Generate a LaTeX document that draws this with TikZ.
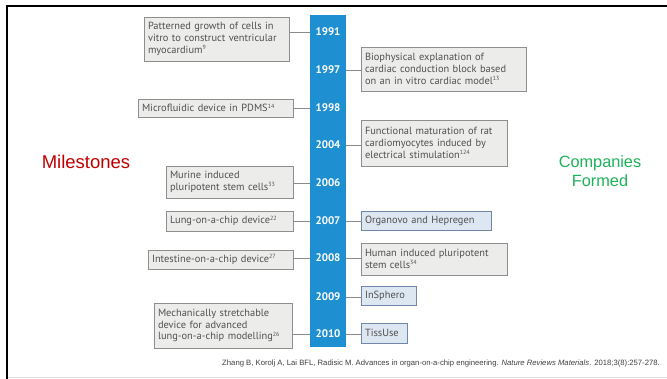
\documentclass[tikz,border=0pt]{standalone}
\usepackage{fontspec}
\setmainfont{PT Sans}
\newfontfamily\arialf{Liberation Sans}
\definecolor{barblue}{HTML}{1E8FD0}
\definecolor{boxgray}{HTML}{ECECEA}
\definecolor{boxedge}{HTML}{8E8E8E}
\definecolor{boxblue}{HTML}{DDE7F1}
\definecolor{blueedge}{HTML}{7088A6}
\definecolor{txt}{HTML}{505050}
\definecolor{msred}{HTML}{C00000}
\definecolor{cogreen}{HTML}{1DB35A}
\definecolor{linegray}{HTML}{8A8A8A}
\newcommand{\rf}[1]{\textsuperscript{\fontsize{6}{6}\selectfont #1}}
\begin{document}
\begin{tikzpicture}[x=1pt,y=-1pt,
  gbox/.style={draw=boxedge, fill=boxgray, line width=0.8pt, inner xsep=4pt, inner ysep=0pt,
    align=left, text=txt, font=\fontsize{10.4}{11.8}\selectfont, anchor=center},
  bbox/.style={gbox, draw=blueedge, fill=boxblue},
  yr/.style={text=white, font=\fontsize{11}{12}\bfseries\selectfont, anchor=center, inner sep=0pt},
  conn/.style={draw=linegray, line width=0.8pt}]
\useasboundingbox (0,0) rectangle (667,379);
\fill[white] (0,0) rectangle (667,379);
% frame
\draw[line width=2pt, black] (667,6) -- (7,6) -- (7,379);
\draw[line width=1pt, black!13] (8,378) -- (667,378);
% bar
\node[fill=barblue, inner sep=0pt, minimum width=36pt, minimum height=332pt, anchor=north west] (bar) at (310,15) {};
\node[yr] (y1991) at (328,32) {1991};
\node[yr] (y1997) at (328,70) {1997};
\node[yr] (y1998) at (328,108) {1998};
\node[yr] (y2004) at (328,145) {2004};
\node[yr] (y2006) at (328,183) {2006};
\node[yr] (y2007) at (328,221) {2007};
\node[yr] (y2008) at (328,258) {2008};
\node[yr] (y2009) at (328,297) {2009};
\node[yr] (y2010) at (328,334) {2010};
% left boxes
\node[gbox, minimum width=145pt, minimum height=44pt, text width=137pt] (l1991) at (216.5,39) {Patterned growth of cells in\\vitro to construct ventricular\\myocardium\rf{9}};
\node[gbox, minimum width=155pt, minimum height=18pt, text width=147pt] (l1998) at (215.5,108) {Microfluidic device in PDMS\rf{14}};
\node[gbox, minimum width=127pt, minimum height=32pt, text width=119pt] (l2006) at (229.5,182) {Murine induced\\pluripotent stem cells\rf{33}};
\node[gbox, minimum width=127pt, minimum height=20pt, text width=119pt] (l2007) at (229.5,221) {Lung-on-a-chip device\rf{22}};
\node[gbox, minimum width=145pt, minimum height=19pt, text width=137pt] (l2008) at (220.5,259.5) {Intestine-on-a-chip device\rf{27}};
\node[gbox, minimum width=138pt, minimum height=45pt, text width=130pt] (l2010) at (223,325.5) {Mechanically stretchable\\device for advanced\\lung-on-a-chip modelling\rf{26}};
% right boxes
\node[gbox, minimum width=165pt, minimum height=44pt, text width=157pt] (r1997) at (443.5,69) {Biophysical explanation of\\cardiac conduction block based\\on an in vitro cardiac model\rf{13}};
\node[gbox, minimum width=146pt, minimum height=46pt, text width=138pt] (r2004) at (434,143) {Functional maturation of rat\\cardiomyocytes induced by\\electrical stimulation\rf{124}};
\node[bbox, minimum width=130pt, minimum height=19pt, text width=122pt] (r2007) at (426,220.5) {Organovo and Hepregen};
\node[gbox, minimum width=146pt, minimum height=32pt, text width=138pt] (r2008) at (434,259) {Human induced pluripotent\\stem cells\rf{34}};
\node[bbox, minimum width=55pt, minimum height=19pt, text width=47pt] (r2009) at (388.5,295.5) {InSphero};
\node[bbox, minimum width=46pt, minimum height=20pt, text width=38pt] (r2010) at (384,333) {TissUse};
% connectors
\foreach \b/\y in {l1991/y1991, l1998/y1998, l2006/y2006, l2007/y2007, l2008/y2008, l2010/y2010}
  \draw[conn] (\b.east |- \y.center) -- (\y.center -| bar.west);
\foreach \b/\y in {r1997/y1997, r2004/y2004, r2007/y2007, r2008/y2008, r2009/y2009, r2010/y2010}
  \draw[conn] (\y.center -| bar.east) -- (\b.west |- \y.center);
% labels
\node[text=msred, font=\arialf\fontsize{18.5}{20}\selectfont, inner sep=0pt] (ms) at (86,162) {Milestones};
\node[text=cogreen, font=\arialf\fontsize{16.3}{19.5}\selectfont, align=center, inner sep=0pt] (cf) at (600,171) {Companies\\Formed};
\node[text=black!75, font=\arialf\fontsize{7.7}{9}\selectfont, anchor=east, inner sep=0pt] (cite) at (660,364) {Zhang B, Korolj A, Lai BFL, Radisic M. Advances in organ-on-a-chip engineering. \textit{Nature Reviews Materials}. 2018;3(8):257-278.};
\end{tikzpicture}
\end{document}
